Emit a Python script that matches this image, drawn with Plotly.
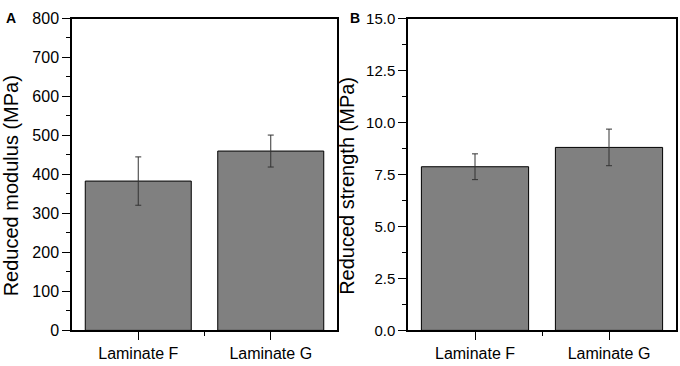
import plotly.graph_objects as go

categories = ["Laminate F", "Laminate G"]
modulus = [383, 460]
modulus_err = [62, 41]
strength = [7.87, 8.8]
strength_err = [0.62, 0.88]

W, H = 680, 366
FONT = "Liberation Sans, Arial, sans-serif"
xpos = [0, 1]

fig = go.Figure()
bar_style = dict(marker=dict(color="#808080", line=dict(color="#000000", width=1)),
                 width=0.8, showlegend=False, hoverinfo="skip")
err_style = dict(type="data", color="#333333", thickness=1, width=3)

fig.add_trace(go.Bar(x=xpos, y=modulus, error_y=dict(array=modulus_err, **err_style),
                     xaxis="x", yaxis="y", **bar_style))
fig.add_trace(go.Bar(x=xpos, y=strength, error_y=dict(array=strength_err, **err_style),
                     xaxis="x2", yaxis="y2", **bar_style))

def xdom(l, r):
    return [l / W, r / W]

ydom = [(H - 338) / H, (H - 10) / H]

axis_common = dict(showline=True, linecolor="black", linewidth=1.5, mirror=True,
                   ticks="outside", ticklen=8, tickwidth=1.2, tickcolor="black",
                   showgrid=False, zeroline=False,
                   tickfont=dict(family=FONT, size=16, color="black"))

xcommon = dict(axis_common, range=[-0.5, 1.5], tickmode="array", tickvals=xpos,
               ticktext=categories,
               minor=dict(tickmode="array", tickvals=[0.5], ticks="outside",
                          ticklen=4, tickwidth=1.2, tickcolor="black"))

title_font = dict(family=FONT, size=20, color="black")
label_font = dict(family=FONT, size=14, color="black")

fig.update_layout(
    width=W, height=H,
    margin=dict(l=0, r=0, t=0, b=0),
    paper_bgcolor="white", plot_bgcolor="white",
    barmode="group",
    xaxis=dict(xcommon, domain=xdom(72, 337), anchor="y"),
    yaxis=dict(axis_common, domain=ydom, range=[0, 800], dtick=100, anchor="x",
               minor=dict(dtick=50, ticks="outside", ticklen=4, tickwidth=1.2,
                          tickcolor="black")),
    xaxis2=dict(xcommon, domain=xdom(408, 676), anchor="y2"),
    yaxis2=dict(axis_common, domain=ydom, range=[0, 15], dtick=2.5, tickformat=".1f",
                anchor="x2", tickfont=dict(family=FONT, size=15, color="black"),
                minor=dict(dtick=1.25, ticks="outside", ticklen=4, tickwidth=1.2,
                           tickcolor="black")),
    annotations=[
        dict(text="Reduced modulus (MPa)", textangle=-90, x=11 / W, y=(H - 186.5) / H,
             xref="paper", yref="paper", xanchor="center", yanchor="middle",
             showarrow=False, font=title_font),
        dict(text="Reduced strength (MPa)", textangle=-90, x=347 / W, y=(H - 186) / H,
             xref="paper", yref="paper", xanchor="center", yanchor="middle",
             showarrow=False, font=title_font),
        dict(text="<b>A</b>", x=10.5 / W, y=(H - 9) / H, xref="paper", yref="paper",
             xanchor="center", yanchor="middle", showarrow=False, font=label_font),
        dict(text="<b>B</b>", x=355 / W, y=(H - 9) / H, xref="paper", yref="paper",
             xanchor="center", yanchor="middle", showarrow=False, font=label_font),
    ],
)

fig.write_html("out.html", config={"displayModeBar": False},
               post_script="document.body.style.margin='0';document.body.style.overflow='hidden';")
